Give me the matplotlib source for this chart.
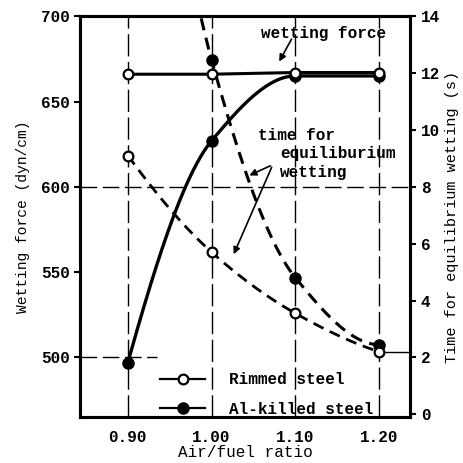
import numpy as np
import matplotlib.pyplot as plt
from matplotlib.lines import Line2D

plt.rcParams['font.family'] = ['Liberation Mono', 'DejaVu Sans Mono']
plt.rcParams['font.weight'] = 'bold'
plt.rcParams['font.size'] = 11.5

# air/fuel ratio
ratio = [0.90, 1.00, 1.10, 1.20]

# wetting force (dyn/cm), left axis
force_rimmed = [666, 666, 667, 667]
force_alkilled = [497, 627, 665, 665]

# time for equilibrium wetting (s), right axis
# first Al-killed value lies above the plotted range
time_rimmed = [9.1, 5.7, 3.55, 2.2]
time_alkilled = [30.0, 12.46, 4.8, 2.45]

xticks = [0.90, 1.00, 1.10, 1.20]
xticklabels = ['0.90', '1.00', '1.10', '1.20']
left_ticks = [500, 550, 600, 650, 700]
right_ticks = [0, 2, 4, 6, 8, 10, 12, 14]


#monotone cubic (pchip-like) curve through the points, for drawing the smooth lines
def smooth(x, y, n=60):
    x = np.asarray(x, float)
    y = np.asarray(y, float)
    h = np.diff(x)
    d = np.diff(y) / h
    m = np.zeros(len(x))
    for k in range(1, len(x) - 1):
        if d[k-1] * d[k] > 0:
            w1 = 2*h[k] + h[k-1]
            w2 = h[k] + 2*h[k-1]
            m[k] = (w1 + w2) / (w1/d[k-1] + w2/d[k])
    m[0] = ((2*h[0] + h[1])*d[0] - h[0]*d[1]) / (h[0] + h[1])
    if np.sign(m[0]) != np.sign(d[0]):
        m[0] = 0
    m[-1] = ((2*h[-1] + h[-2])*d[-1] - h[-1]*d[-2]) / (h[-1] + h[-2])
    if np.sign(m[-1]) != np.sign(d[-1]):
        m[-1] = 0
    xs, ys = [], []
    for k in range(len(x) - 1):
        t = np.linspace(0, 1, n)
        h00 = 2*t**3 - 3*t**2 + 1
        h10 = t**3 - 2*t**2 + t
        h01 = -2*t**3 + 3*t**2
        h11 = t**3 - t**2
        xs.append(x[k] + t*h[k])
        ys.append(h00*y[k] + h10*h[k]*m[k] + h01*y[k+1] + h11*h[k]*m[k+1])
    return np.concatenate(xs), np.concatenate(ys)


fig = plt.figure(figsize=(4.63, 4.63), dpi=100)
ax = fig.add_axes([0.173, 0.099, 0.713, 0.866])
ax2 = ax.twinx()

ax.set_xlim(0.843, 1.237)
ax.set_ylim(465, 700)
ax2.set_ylim(-0.1, 14)

# reference lines
for xv in xticks:
    ax.axvline(xv, color='k', lw=1.0, ls=(0, (16, 4)), zorder=1)
ax.axhline(600, color='k', lw=1.0, ls=(0, (12, 4)), zorder=1)
ax.hlines(500, 0.843, 0.935, color='k', lw=1.0, ls=(0, (12, 4)), zorder=1)
ax2.hlines(2.2, 1.2, 1.237, color='k', lw=1.0, zorder=1)

# wetting force
ax.plot(ratio, force_rimmed, color='k', lw=2.2, zorder=3)
ax.plot(ratio, force_rimmed, 'o', mfc='white', mec='k', mew=1.6, ms=7, zorder=5)
sx, sy = smooth(ratio, force_alkilled)
ax.plot(sx, sy, color='k', lw=2.4, zorder=3)
ax.plot(ratio, force_alkilled, 'o', color='k', ms=8, zorder=4)

# time for equilibrium wetting
sx, sy = smooth(ratio, time_rimmed)
ax2.plot(sx, sy, color='k', lw=2.0, ls=(0, (4, 2.5)), zorder=3)
ax2.plot(ratio, time_rimmed, 'o', mfc='white', mec='k', mew=1.6, ms=7, zorder=5)
sx, sy = smooth(ratio, time_alkilled)
ax2.plot(sx, sy, color='k', lw=2.2, ls=(0, (4, 2.5)), zorder=3)
ax2.plot(ratio, time_alkilled, 'o', color='k', ms=8, zorder=4)

# annotations
ax.text(1.133, 690, 'wetting force', ha='center', va='center')
ax.annotate('', xy=(1.079, 672), xytext=(1.097, 688),
            arrowprops=dict(arrowstyle='-|>', color='k', lw=1.2, mutation_scale=10))
ax.text(1.055, 630, 'time for', ha='left', va='center')
ax.text(1.082, 619.5, 'equiliburium', ha='left', va='center')
ax.text(1.082, 608.5, 'wetting', ha='left', va='center')
ax.annotate('', xy=(1.042, 606), xytext=(1.073, 613),
            arrowprops=dict(arrowstyle='-|>', color='k', lw=1.2, mutation_scale=10))
ax.annotate('', xy=(1.025, 559), xytext=(1.073, 613),
            arrowprops=dict(arrowstyle='-|>', color='k', lw=1.2, mutation_scale=10))

# legend
handles = [
    Line2D([], [], color='k', lw=1.6, marker='o', mfc='white', mec='k', mew=1.6, ms=7),
    Line2D([], [], color='k', lw=1.6, marker='o', mfc='k', ms=8),
]
ax.legend(handles, ['Rimmed steel', 'Al-killed steel'], loc='lower left',
          bbox_to_anchor=(0.2, -0.035), frameon=False, handlelength=2.8,
          handletextpad=1.5, labelspacing=0.9)

# axes styling
ax.set_xticks(xticks)
ax.set_xticklabels(xticklabels)
ax.set_yticks(left_ticks)
ax2.set_yticks(right_ticks)
ax.tick_params(axis='x', length=0, pad=9)
ax.tick_params(axis='y', direction='out', length=4, width=1.5)
ax2.tick_params(axis='y', direction='out', length=4, width=1.5)
for a in (ax, ax2):
    for s in a.spines.values():
        s.set_linewidth(2.2)
ax.set_xlabel('Air/fuel ratio', labelpad=0)
ax.set_ylabel('Wetting force (dyn/cm)', fontsize=10.5, labelpad=8)
ax2.set_ylabel('Time for equilibrium wetting (s)', fontsize=11)

fig.savefig('out.png', dpi=100)
